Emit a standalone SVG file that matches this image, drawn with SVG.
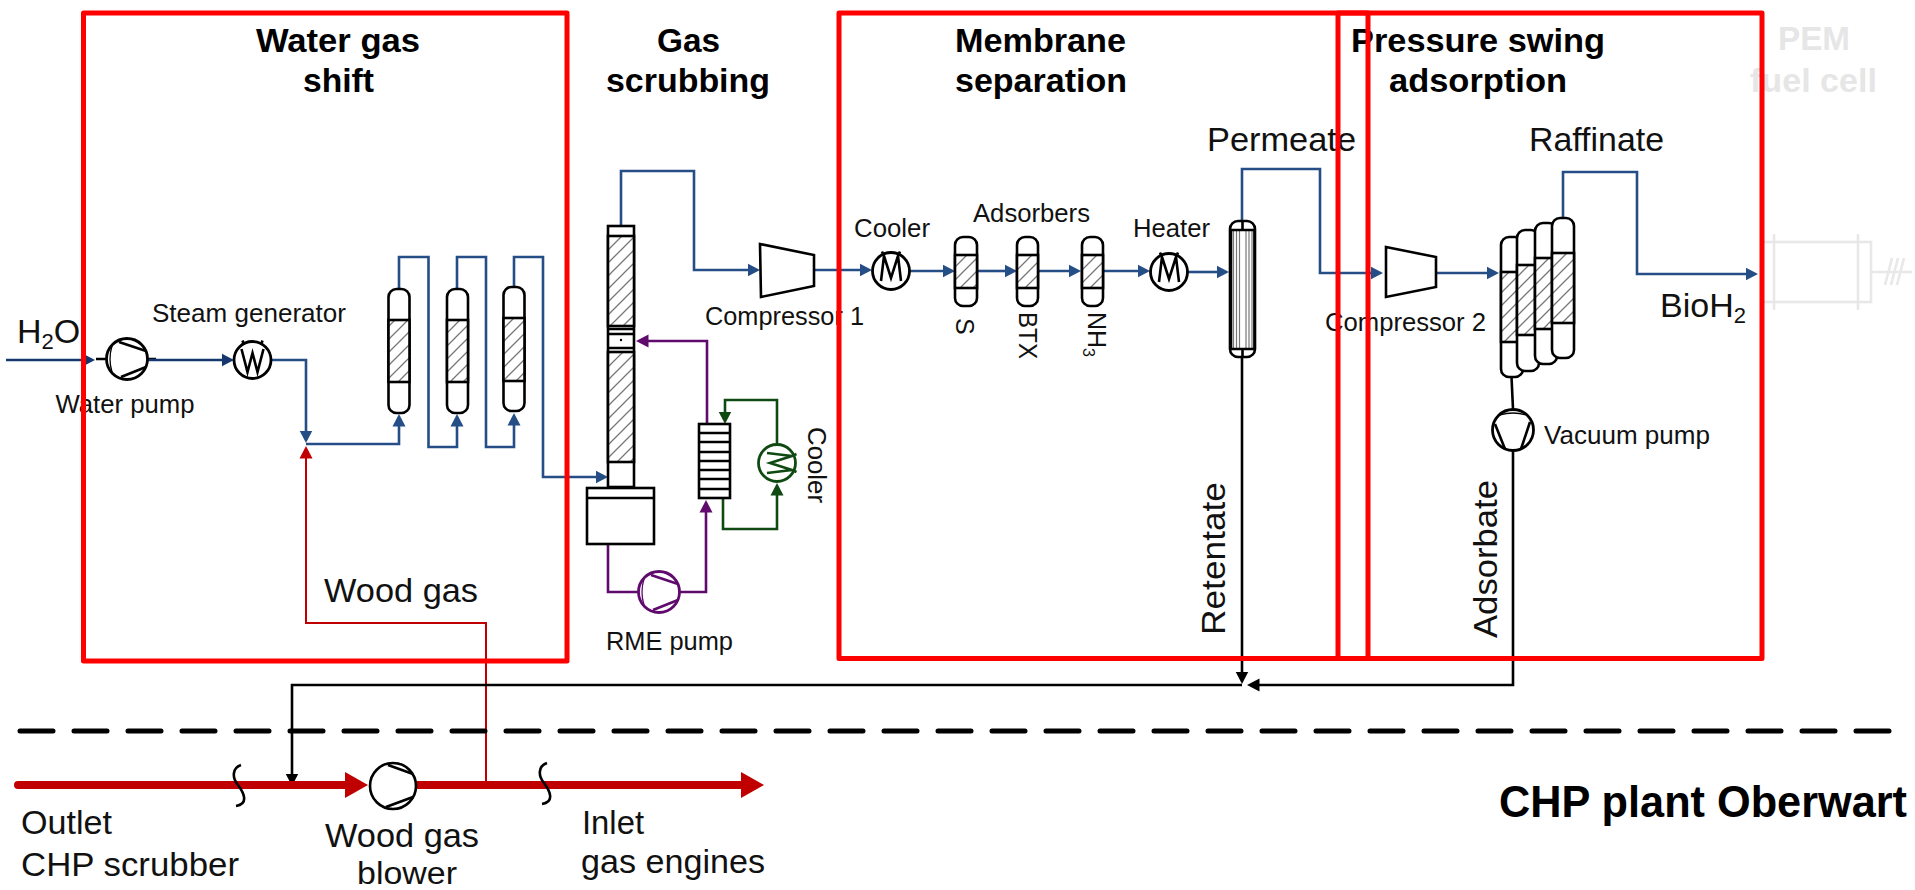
<svg xmlns="http://www.w3.org/2000/svg" width="1915" height="890" viewBox="0 0 1915 890">
<style>
text{font-family:"Liberation Sans",Arial,sans-serif;fill:#111}
.t{font-size:26px}.l{font-size:34px}.h{font-size:34px;font-weight:bold;fill:#000}.v{font-size:25px}
.g{fill:#e6e6e6}
.b,.n,.p,.gr,.k,.r{fill:none;stroke-width:2.6}
.b{stroke:#254e86}.n{stroke:#17386f}.p{stroke:#600a6e}.gr{stroke:#0f4a12}.k{stroke:#000}.r{stroke:#c00000;stroke-width:2}
.s{fill:#fff;stroke:#000;stroke-width:2.6}
.f{fill:url(#hatch)}
.ln{fill:none;stroke:#000;stroke-width:2.6}
.box{fill:none;stroke:#f00;stroke-width:5;stroke-linejoin:round}
.ghost{fill:none;stroke:#e8e8e8;stroke-width:2.6}
.sym{fill:#fff;stroke:currentColor;stroke-width:2.8}
.sym2{fill:none;stroke:currentColor;stroke-width:2.6}
.thin{fill:none;stroke:currentColor;stroke-width:1.3}
</style>
<defs>
<pattern id="hatch" patternUnits="userSpaceOnUse" width="13" height="13">
<rect width="13" height="13" fill="#fff"/>
<path d="M-2 15L15 -2M-2 2L2 -2M11 15L15 11" stroke="#777" stroke-width="1.3"/>
</pattern>
<marker id="ab" markerUnits="userSpaceOnUse" markerWidth="14" markerHeight="14" refX="2.5" refY="7" orient="auto"><path d="M0 .5L12.5 7L0 13.5Z" fill="#254e86"/></marker>
<marker id="an" markerUnits="userSpaceOnUse" markerWidth="14" markerHeight="14" refX="2.5" refY="7" orient="auto"><path d="M0 .5L12.5 7L0 13.5Z" fill="#17386f"/></marker>
<marker id="ap" markerUnits="userSpaceOnUse" markerWidth="14" markerHeight="14" refX="2.5" refY="7" orient="auto"><path d="M0 .5L12.5 7L0 13.5Z" fill="#600a6e"/></marker>
<marker id="ag" markerUnits="userSpaceOnUse" markerWidth="14" markerHeight="14" refX="2.5" refY="7" orient="auto"><path d="M0 .5L12.5 7L0 13.5Z" fill="#0f4a12"/></marker>
<marker id="ak" markerUnits="userSpaceOnUse" markerWidth="14" markerHeight="14" refX="2.5" refY="7" orient="auto"><path d="M0 .5L12.5 7L0 13.5Z" fill="#000"/></marker>
<marker id="ar" markerUnits="userSpaceOnUse" markerWidth="14" markerHeight="14" refX="2.5" refY="7" orient="auto"><path d="M0 .5L12.5 7L0 13.5Z" fill="#c00000"/></marker>
<marker id="art" markerUnits="userSpaceOnUse" markerWidth="26" markerHeight="26" refX="1" refY="13" orient="auto"><path d="M0 0L23 13L0 26Z" fill="#c00000"/></marker>
<g id="hx"><circle r="18.5" class="sym"/><path d="M-10 10L-7 -15L0 7L7 -15L10 10M-9 -19.5L-7 -15M9 -19.5L7 -15" class="sym2"/></g>
<g id="hxw"><circle r="18.5" class="sym"/><path d="M-11 -11L-5 12L0 -7L5 12L11 -11M-10 -19.5L-8.5 -15M10 -19.5L8.5 -15" class="sym2"/></g>
<g id="pump"><circle r="20.5" class="sym"/><path d="M-8 -17L19 -8M-6 18L19 8" class="sym2"/><path d="M-15 -13Q-19 0 -15 13" class="thin"/></g>
</defs>

<g id="ghost-fuel-cell">
<rect x="1762" y="242" width="109" height="60" class="ghost"/>
<path d="M1774 234V310M1858 234V310M1871 272H1912M1885 285L1892 258M1891 285L1898 258M1897 285L1904 258" class="ghost"/>
<text x="1778" y="50" class="h g" textLength="72" lengthAdjust="spacingAndGlyphs">PEM</text>
<text x="1750" y="92" class="h g" textLength="127" lengthAdjust="spacingAndGlyphs">fuel cell</text>
</g>

<g id="connectors">
<path class="n" d="M6 360H85" marker-end="url(#an)"/>
<path class="k" d="M96 359H107M147 359H156"/>
<path class="n" d="M147 360H224" marker-end="url(#an)"/>
<path class="b" d="M271 360H306V433" marker-end="url(#ab)"/>
<path class="b" d="M306 444H399V424" marker-end="url(#ab)"/>
<path class="r" d="M486 785V623H306V456" marker-end="url(#ar)"/>
<path class="b" d="M399 289V257H428.5V447H457V424" marker-end="url(#ab)"/>
<path class="b" d="M457 289V257H486V447H514V423" marker-end="url(#ab)"/>
<path class="b" d="M514 287V257H543V477H598" marker-end="url(#ab)"/>
<path class="b" d="M621 226V171H694V270H750" marker-end="url(#ab)"/>
<path class="b" d="M814 270H862" marker-end="url(#ab)"/>
<path class="b" d="M910 271H945" marker-end="url(#ab)"/>
<path class="b" d="M977 271H1007" marker-end="url(#ab)"/>
<path class="b" d="M1038 271H1071" marker-end="url(#ab)"/>
<path class="b" d="M1103 271H1140" marker-end="url(#ab)"/>
<path class="b" d="M1188 272H1219" marker-end="url(#ab)"/>
<path class="b" d="M1242 221V169H1320V273H1373" marker-end="url(#ab)"/>
<path class="b" d="M1436 273H1489" marker-end="url(#ab)"/>
<path class="b" d="M1563 218V172H1637V274H1748" marker-end="url(#ab)"/>
<path class="p" d="M608 544V592H639M679 592H706V510" marker-end="url(#ap)"/>
<path class="p" d="M707 424V341H646" marker-end="url(#ap)"/>
<path class="gr" d="M723 498V529H777V493" marker-end="url(#ag)"/>
<path class="gr" d="M777 444V400H725V414" marker-end="url(#ag)"/>
<path class="k" d="M1242 357V674" marker-end="url(#ak)"/>
<path class="k" d="M1513 451V685H1257" marker-end="url(#ak)"/>
<path class="k" d="M1242 685H292V776" marker-end="url(#ak)"/>
<path class="k" d="M1511.5 377L1513 409"/>
<path d="M18 785H346" stroke="#c00000" stroke-width="8" stroke-linecap="round" fill="none" marker-end="url(#art)"/>
<path d="M416 785H742" stroke="#c00000" stroke-width="8" stroke-linecap="round" fill="none" marker-end="url(#art)"/>
<path d="M241 765C232 768 232 778 238 785C244 793 249 804 236 806M547 763C538 766 538 776 544 783C550 791 555 802 542 804" class="ln"/>
<path d="M20 731H1892" stroke="#000" stroke-width="5" stroke-dasharray="33 21" stroke-linecap="round" fill="none"/>
</g>

<g id="water-pump" color="#000"><use href="#pump" x="127" y="359"/></g>
<g id="steam-generator" color="#000"><use href="#hxw" x="252.5" y="360"/></g>

<g id="reactor-1"><rect x="388.5" y="289" width="21" height="124" rx="8" class="s"/><rect x="388.5" y="320" width="21" height="62" class="s f"/></g>
<g id="reactor-2"><rect x="447" y="289" width="21" height="124" rx="8" class="s"/><rect x="447" y="320" width="21" height="62" class="s f"/></g>
<g id="reactor-3"><rect x="503.5" y="287" width="21" height="124" rx="8" class="s"/><rect x="503.5" y="318" width="21" height="63" class="s f"/></g>

<g id="scrubber">
<rect x="608" y="226" width="26" height="261" class="s"/>
<rect x="608" y="236" width="26" height="90" class="s f"/>
<rect x="608" y="352" width="26" height="110" class="s f"/>
<path d="M608 329H634M608 334H634M608 348H634" class="ln"/>
<circle cx="621" cy="340" r="1.2" fill="#000"/>
<rect x="587" y="488" width="67" height="56" class="s"/>
<path d="M587 498H654" class="ln"/>
</g>

<g id="rme-pump" color="#600a6e"><use href="#pump" x="659" y="592"/></g>
<g id="rme-exchanger">
<rect x="699" y="424" width="31" height="74" class="s"/>
<path d="M699 433H730M699 442H730M699 452H730M699 461H730M699 470H730M699 479H730M699 489H730" class="ln"/>
</g>
<g id="rme-cooler" color="#0f4a12"><use href="#hx" transform="translate(777 463) rotate(90)"/></g>

<g id="compressor-1"><path d="M760 244L814 255V286L761 297Z" class="s"/></g>
<g id="cooler" color="#000"><use href="#hx" x="891" y="271"/></g>
<g id="adsorber-s"><rect x="955" y="237" width="22" height="69" rx="8" class="s"/><rect x="955" y="255" width="22" height="33" class="s f"/></g>
<g id="adsorber-btx"><rect x="1017" y="237" width="21" height="69" rx="8" class="s"/><rect x="1017" y="255" width="21" height="33" class="s f"/></g>
<g id="adsorber-nh3"><rect x="1082" y="237" width="21" height="69" rx="8" class="s"/><rect x="1082" y="255" width="21" height="33" class="s f"/></g>
<g id="heater" color="#000"><use href="#hx" x="1169" y="272"/></g>
<g id="membrane">
<rect x="1230" y="221" width="25" height="136" rx="8" class="s"/>
<path d="M1233.5 230V349M1236.5 230V349M1239.5 230V349M1246 230V349M1249 230V349M1252 230V349" stroke="#777" stroke-width="1.2" fill="none"/>
<path d="M1230 230H1255M1230 349H1255M1242.5 221V230M1242.5 349V357" class="ln"/>
<path d="M1231 230V349M1254.5 230V349" class="ln"/>
</g>
<g id="compressor-2"><path d="M1386 247L1436 257V287L1386 297Z" class="s"/></g>
<g id="psa-columns">
<rect x="1501" y="237" width="22" height="140" rx="8" class="s"/><rect x="1501" y="272" width="22" height="70" class="s f"/>
<rect x="1517" y="230" width="22" height="141" rx="8" class="s"/><rect x="1517" y="265" width="22" height="70" class="s f"/>
<rect x="1535" y="223" width="22" height="141" rx="8" class="s"/><rect x="1535" y="258" width="22" height="71" class="s f"/>
<rect x="1552" y="218" width="22" height="140" rx="8" class="s"/><rect x="1552" y="253" width="22" height="70" class="s f"/>
</g>
<g id="vacuum-pump" color="#000"><use href="#pump" transform="translate(1513 430) rotate(90)"/></g>
<g id="wood-gas-blower">
<circle cx="393" cy="786" r="23" class="s"/>
<path d="M388 765L413 774M386 807L413 797" class="ln"/>
</g>

<g id="labels">
<text x="17" y="343" font-size="34">H<tspan font-size="22" dy="6">2</tspan><tspan dy="-6">O</tspan></text>
<text x="152" y="322" class="t" textLength="194" lengthAdjust="spacingAndGlyphs">Steam generator</text>
<text x="55.5" y="413" class="t" textLength="139" lengthAdjust="spacingAndGlyphs">Water pump</text>
<text x="705" y="325" class="t" textLength="159" lengthAdjust="spacingAndGlyphs">Compressor 1</text>
<text x="606" y="650" class="t" textLength="127" lengthAdjust="spacingAndGlyphs">RME pump</text>
<text transform="translate(808 427) rotate(90)" class="t" textLength="76" lengthAdjust="spacingAndGlyphs">Cooler</text>
<text x="854" y="237" class="t" textLength="76" lengthAdjust="spacingAndGlyphs">Cooler</text>
<text x="973" y="222" class="t" textLength="117" lengthAdjust="spacingAndGlyphs">Adsorbers</text>
<text x="1133" y="237" class="t" textLength="77" lengthAdjust="spacingAndGlyphs">Heater</text>
<text transform="translate(956 318) rotate(90)" class="v">S</text>
<text transform="translate(1019 312) rotate(90)" class="v" textLength="47" lengthAdjust="spacingAndGlyphs">BTX</text>
<text transform="translate(1088 312) rotate(90)" class="v">NH<tspan font-size="16" dy="5">3</tspan></text>
<text x="1207" y="151" class="l" textLength="149" lengthAdjust="spacingAndGlyphs">Permeate</text>
<text x="1529" y="151" class="l" textLength="135" lengthAdjust="spacingAndGlyphs">Raffinate</text>
<text x="1660" y="317" font-size="34">BioH<tspan font-size="22" dy="6">2</tspan></text>
<text x="1325" y="331" class="t" textLength="161" lengthAdjust="spacingAndGlyphs">Compressor 2</text>
<text x="1544" y="444" class="t" textLength="166" lengthAdjust="spacingAndGlyphs">Vacuum pump</text>
<text transform="translate(1225 635) rotate(-90)" class="l" textLength="153" lengthAdjust="spacingAndGlyphs">Retentate</text>
<text transform="translate(1497 638) rotate(-90)" class="l" textLength="158" lengthAdjust="spacingAndGlyphs">Adsorbate</text>
<text x="324" y="602" class="l" textLength="154" lengthAdjust="spacingAndGlyphs">Wood gas</text>
<text x="21" y="834" class="l" textLength="91" lengthAdjust="spacingAndGlyphs">Outlet</text>
<text x="21" y="876" class="l" textLength="218" lengthAdjust="spacingAndGlyphs">CHP scrubber</text>
<text x="325" y="847" class="l" textLength="154" lengthAdjust="spacingAndGlyphs">Wood gas</text>
<text x="357" y="883.5" font-size="31" textLength="100" lengthAdjust="spacingAndGlyphs">blower</text>
<text x="582" y="834" class="l" textLength="62" lengthAdjust="spacingAndGlyphs">Inlet</text>
<text x="581" y="873" class="l" textLength="184" lengthAdjust="spacingAndGlyphs">gas engines</text>
<text x="1499" y="817" class="h" style="font-size:44px" textLength="408" lengthAdjust="spacingAndGlyphs">CHP plant Oberwart</text>
<text x="256" y="52" class="h" textLength="164" lengthAdjust="spacingAndGlyphs">Water gas</text>
<text x="303" y="92" class="h" textLength="71" lengthAdjust="spacingAndGlyphs">shift</text>
<text x="657" y="52" class="h" textLength="63" lengthAdjust="spacingAndGlyphs">Gas</text>
<text x="606" y="92" class="h" textLength="164" lengthAdjust="spacingAndGlyphs">scrubbing</text>
<text x="955" y="52" class="h" textLength="171" lengthAdjust="spacingAndGlyphs">Membrane</text>
<text x="955" y="92" class="h" textLength="172" lengthAdjust="spacingAndGlyphs">separation</text>
<text x="1351" y="52" class="h" textLength="254" lengthAdjust="spacingAndGlyphs">Pressure swing</text>
<text x="1389" y="92" class="h" textLength="178" lengthAdjust="spacingAndGlyphs">adsorption</text>
</g>

<g id="section-boxes">
<rect x="83.5" y="13" width="483.5" height="648" class="box"/>
<rect x="839" y="13" width="529" height="645.5" class="box"/>
<rect x="1338" y="13" width="424" height="645.5" class="box"/>
</g>
</svg>
